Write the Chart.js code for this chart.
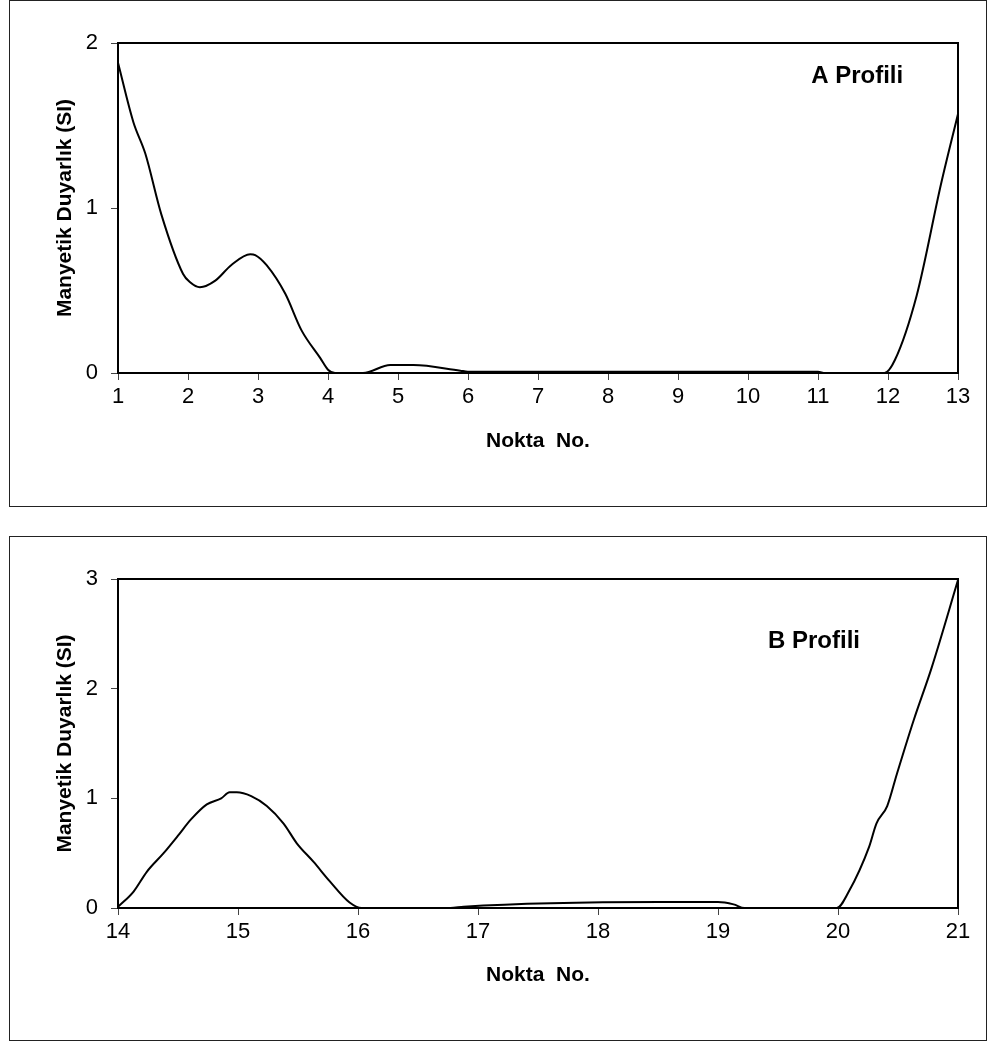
<!DOCTYPE html>
<html>
<head>
<meta charset="utf-8">
<script src="https://cdn.jsdelivr.net/npm/chart.js@4.4.0/dist/chart.umd.min.js"></script>
<style>
  body { margin:0; background:#fff; }
  .box { position:absolute; left:9px; width:978px; border:1px solid #222; box-sizing:border-box; background:#fff; }
  .box canvas { position:absolute; left:0; top:0; }
  #boxA { top:0; height:507px; }
  #boxB { top:536px; height:505px; }
</style>
</head>
<body>
<div class="box" id="boxA"><canvas id="chartA" width="976" height="505"></canvas></div>
<div class="box" id="boxB"><canvas id="chartB" width="976" height="503"></canvas></div>
<script>
// A profili - nokta no / duyarlik
var aX = [1.0, 1.22, 1.39, 1.62, 1.93, 2.03, 2.17, 2.39, 2.62, 2.89, 2.96, 3.12, 3.39, 3.62, 3.89, 4.0, 4.1, 4.5, 4.89, 5.22, 5.89, 6, 7, 8, 9, 10, 11, 11.1, 11.95, 12.1, 12.41, 12.76, 13];
var aY = [1.88, 1.52, 1.33, 0.96, 0.60, 0.55, 0.52, 0.56, 0.655, 0.72, 0.715, 0.655, 0.48, 0.26, 0.09, 0.02, 0, 0, 0.048, 0.048, 0.014, 0.008, 0.008, 0.008, 0.008, 0.008, 0.008, 0, 0, 0.08, 0.47, 1.15, 1.57];
var aTicksY = [0, 1, 2];

// B profili
var bX = [14.0, 14.13, 14.24, 14.38, 14.5, 14.61, 14.74, 14.86, 14.93, 14.99, 15.11, 15.24, 15.38, 15.49, 15.63, 15.76, 15.93, 16.03, 16.77, 16.88, 18.52, 19.0, 19.13, 19.22, 19.99, 20.09, 20.26, 20.32, 20.41, 20.49, 20.63, 20.78, 21.0];
var bY = [0.01, 0.15, 0.33, 0.5, 0.66, 0.81, 0.945, 1.0, 1.055, 1.055, 1.02, 0.93, 0.77, 0.59, 0.42, 0.25, 0.05, 0, 0, 0.012, 0.055, 0.055, 0.033, 0, 0, 0.15, 0.56, 0.77, 0.93, 1.22, 1.71, 2.19, 2.99];
var bTicksY = [0, 1, 2, 3];

var yTitle = 'Manyetik Duyarlık (SI)';
var xTitle = 'Nokta  No.';

Chart.defaults.font.family = '"Liberation Sans", Arial, sans-serif';
Chart.defaults.color = '#000';

// frame round the plot area + profile label
var framePlugin = {
  id: 'frame',
  afterDatasetsDraw: function(chart, args, opts) {
    var a = chart.chartArea, ctx = chart.ctx;
    ctx.save();
    ctx.strokeStyle = '#000';
    ctx.lineWidth = 2;
    ctx.strokeRect(a.left, a.top, a.right - a.left, a.bottom - a.top);
    ctx.font = 'bold 24px "Liberation Sans", Arial, sans-serif';
    ctx.fillStyle = '#000';
    ctx.textAlign = 'center';
    ctx.textBaseline = 'middle';
    ctx.fillText(opts.label, chart.scales.x.getPixelForValue(opts.lx), chart.scales.y.getPixelForValue(opts.ly));
    ctx.restore();
  }
};

function makeChart(id, xs, ys, xMin, xMax, yTicks, label, lx, ly, h, bottom) {
  var pts = xs.map(function(x, i) { return {x: x, y: ys[i]}; });
  return new Chart(document.getElementById(id), {
    type: 'line',
    data: { datasets: [{
      data: pts,
      borderColor: '#000',
      borderWidth: 2,
      pointRadius: 0,
      fill: false,
      cubicInterpolationMode: 'monotone'
    }]},
    options: {
      responsive: false,
      animation: false,
      layout: { padding: { left: 0, top: 42, right: 28, bottom: 0 } },
      plugins: {
        legend: { display: false },
        tooltip: { enabled: false },
        frame: { label: label, lx: lx, ly: ly }
      },
      scales: {
        x: {
          type: 'linear', min: xMin, max: xMax,
          afterFit: function(s) { s.height = h - bottom; },
          border: { color: '#000', width: 2 },
          grid: { drawOnChartArea: false, tickLength: 7, color: '#444' },
          ticks: { stepSize: 1, padding: 4, font: { size: 22 }, color: '#000', maxRotation: 0 },
          title: { display: true, text: xTitle, font: { size: 21, weight: 'bold' }, padding: { top: 0, bottom: 52 } }
        },
        y: {
          type: 'linear', min: yTicks[0], max: yTicks[yTicks.length - 1],
          afterFit: function(s) { s.width = 108; },
          afterBuildTicks: function(s) { s.ticks = yTicks.map(function(v) { return {value: v}; }); },
          border: { color: '#000', width: 2 },
          grid: { drawOnChartArea: false, tickLength: 7, color: '#444' },
          ticks: { padding: 13, font: { size: 22 }, color: '#000' },
          title: { display: true, text: yTitle, font: { size: 21, weight: 'bold' }, padding: { top: 43, bottom: 0 } }
        }
      }
    },
    plugins: [framePlugin]
  });
}

var chartA = makeChart('chartA', aX, aY, 1, 13, aTicksY, 'A Profili', 11.56, 1.8, 505, 372);
var chartB = makeChart('chartB', bX, bY, 14, 21, bTicksY, 'B Profili', 19.8, 2.43, 503, 371);
</script>
</body>
</html>
